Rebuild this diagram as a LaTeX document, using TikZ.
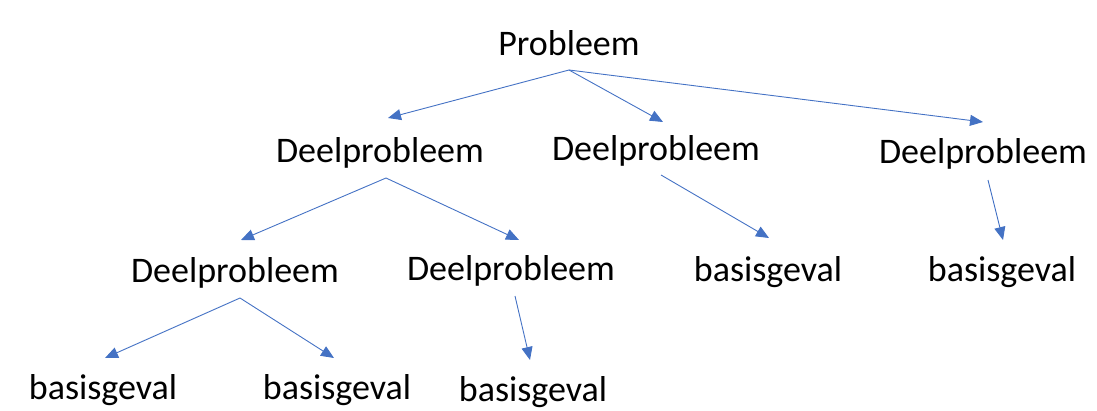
\documentclass[tikz,border=0pt]{standalone}
\usepackage{fontspec}
\setmainfont{Carlito}
\usetikzlibrary{arrows.meta}
\definecolor{arrblue}{HTML}{4472C4}
\tikzset{
  lbl/.style={font=\fontsize{36}{43}\selectfont, anchor=base, inner sep=0pt, text=black},
  arr/.style={draw=arrblue, line width=0.9pt, -{Triangle[length=13pt,width=11pt]}}
}
\begin{document}
\begin{tikzpicture}[x=1pt,y=-1pt]
\useasboundingbox (0,0) rectangle (1097,410);
% labels
\node[lbl] (p)   at (569,55)  {Probleem};
\node[lbl] (d1)  at (380,162) {Deelprobleem};
\node[lbl] (d2)  at (656,160) {Deelprobleem};
\node[lbl] (d3)  at (983,163) {Deelprobleem};
\node[lbl] (d11) at (235,282) {Deelprobleem};
\node[lbl] (d12) at (511,280) {Deelprobleem};
\node[lbl] (b2)  at (768,281) {basisgeval};
\node[lbl] (b3)  at (1002,281) {basisgeval};
\node[lbl] (b111) at (103,399) {basisgeval};
\node[lbl] (b112) at (337,399) {basisgeval};
\node[lbl] (b12)  at (533,401) {basisgeval};
% connector points
\coordinate (p-o)  at (569,70);
\coordinate (d1-i) at (388,118);
\coordinate (d2-i) at (663,122);
\coordinate (d3-i) at (983,122);
\coordinate (d1-o) at (386,178);
\coordinate (d11-i) at (241,240);
\coordinate (d12-i) at (519,240);
\coordinate (d2-o) at (661,175);
\coordinate (b2-i) at (769,238);
\coordinate (d3-o) at (988,180);
\coordinate (b3-i) at (1003,240);
\coordinate (d11-o) at (240,298);
\coordinate (b111-i) at (105,358);
\coordinate (b112-i) at (334,358);
\coordinate (d12-o) at (515,296);
\coordinate (b12-i) at (530,360);
% connectors
\draw[arr] (p-o) -- (d1-i);
\draw[arr] (p-o) -- (d2-i);
\draw[arr] (p-o) -- (d3-i);
\draw[arr] (d1-o) -- (d11-i);
\draw[arr] (d1-o) -- (d12-i);
\draw[arr] (d2-o) -- (b2-i);
\draw[arr] (d3-o) -- (b3-i);
\draw[arr] (d11-o) -- (b111-i);
\draw[arr] (d11-o) -- (b112-i);
\draw[arr] (d12-o) -- (b12-i);
\end{tikzpicture}
\end{document}
